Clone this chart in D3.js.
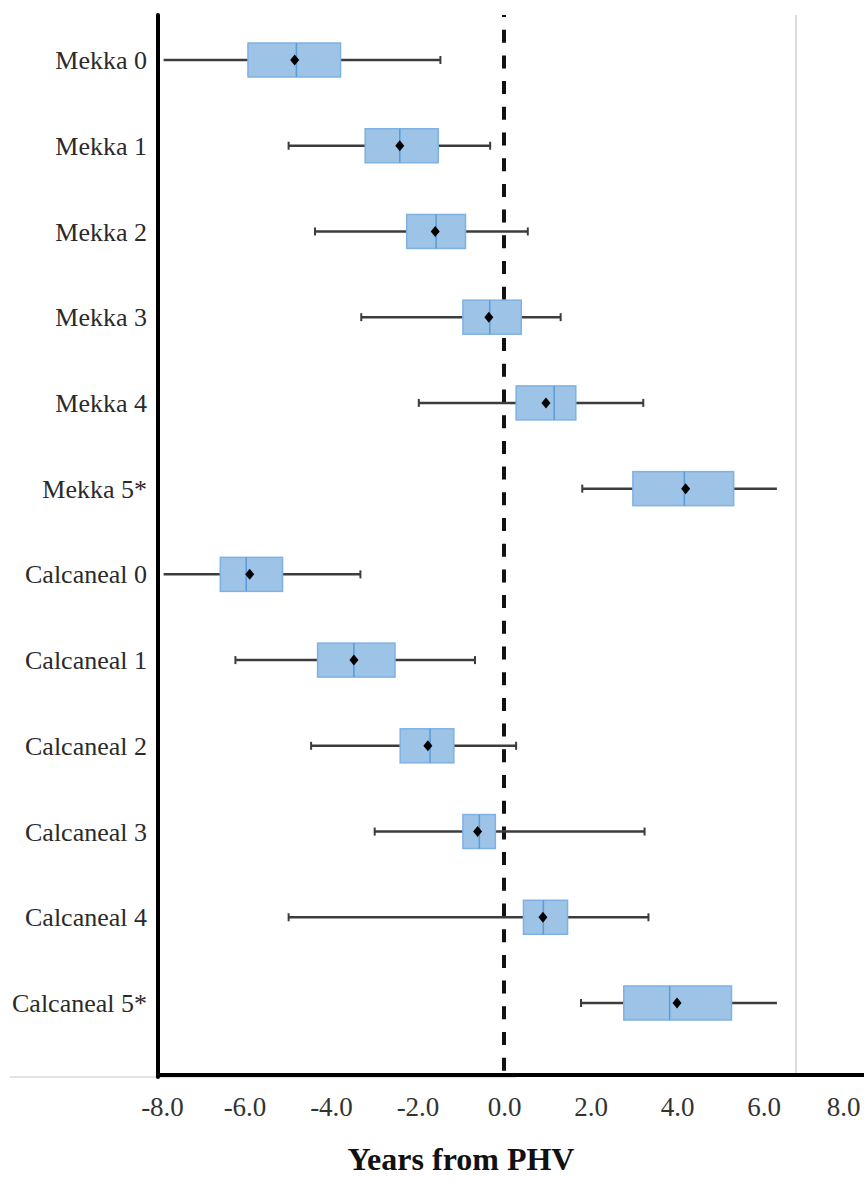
<!DOCTYPE html>
<html>
<head>
    <meta charset="UTF-8">
    <title>Years from PHV</title>
    <script src="https://d3js.org/d3.v7.min.js"></script>
    <style>
        body { margin: 0; background: #fff; }
    </style>
</head>
<body>
    <div id="chart"></div>
    <script>
        // categories, top to bottom
        var categories = ["Mekka 0", "Mekka 1", "Mekka 2", "Mekka 3", "Mekka 4", "Mekka 5*",
                          "Calcaneal 0", "Calcaneal 1", "Calcaneal 2", "Calcaneal 3", "Calcaneal 4", "Calcaneal 5*"];

        // box plot values (years from PHV)
        var mins    = [-7.87, -4.98, -4.37, -3.30, -1.97, 1.81, -7.87, -6.21, -4.46, -2.99, -4.98, 1.78];
        var q1s     = [-5.92, -3.21, -2.25, -0.95,  0.28, 2.98, -6.56, -4.31, -2.40, -0.95,  0.45, 2.77];
        var medians = [-4.80, -2.41, -1.57, -0.33,  1.16, 4.17, -5.96, -3.47, -1.71, -0.57,  0.91, 3.83];
        var means   = [-4.84, -2.41, -1.59, -0.35,  0.97, 4.20, -5.88, -3.47, -1.76, -0.61,  0.90, 4.00];
        var q3s     = [-3.78, -1.52, -0.89,  0.40,  1.66, 5.31, -5.12, -2.52, -1.16, -0.20,  1.47, 5.26];
        var maxs    = [-1.47, -0.32,  0.55,  1.31,  3.22, 6.31, -3.32, -0.67,  0.28,  3.25,  3.34, 6.31];

        var xTicks = [-8, -6, -4, -2, 0, 2, 4, 6, 8];
        var frameValue = 6.75;   // light grey right frame line

        var data = categories.map(function(c, i) {
            return {name: c, min: mins[i], q1: q1s[i], median: medians[i], mean: means[i], q3: q3s[i], max: maxs[i]};
        });

        var width = 864, height = 1182;
        var plotTop = 15, plotBottom = 1075;

        var x = d3.scaleLinear()
            .domain([-8, 8])
            .range([158, 850]);

        var y = d3.scalePoint()
            .domain(categories)
            .range([plotTop + 45, plotBottom - 72]);

        var svg = d3.select("#chart")
            .append("svg")
            .attr("width", width)
            .attr("height", height)
            .style("font-family", "'Liberation Serif', 'Times New Roman', serif");

        // faint grey lines behind the axes
        svg.append("line")
            .attr("x1", 10).attr("x2", 516)
            .attr("y1", plotBottom + 2).attr("y2", plotBottom + 2)
            .attr("stroke", "#c8c8c8").attr("stroke-width", 1);

        svg.append("line")
            .attr("x1", x(frameValue)).attr("x2", x(frameValue))
            .attr("y1", plotTop).attr("y2", plotBottom)
            .attr("stroke", "#c4c4c4").attr("stroke-width", 1.2);

        // zero reference line
        svg.append("line")
            .attr("x1", x(0)).attr("x2", x(0))
            .attr("y1", plotTop).attr("y2", plotBottom)
            .attr("stroke", "#111").attr("stroke-width", 4)
            .attr("stroke-dasharray", "13,12.7")
            .attr("stroke-dashoffset", 11);

        var rows = svg.append("g").selectAll("g")
            .data(data)
            .join("g")
            .attr("transform", function(d) { return "translate(0," + y(d.name) + ")"; });

        // whiskers
        rows.append("line")
            .attr("x1", function(d) { return x(d.min); })
            .attr("x2", function(d) { return x(d.q1); })
            .attr("stroke", "#3c3c3c").attr("stroke-width", 2.5);

        rows.append("line")
            .attr("x1", function(d) { return x(d.q3); })
            .attr("x2", function(d) { return x(d.max); })
            .attr("stroke", "#3c3c3c").attr("stroke-width", 2.5);

        // caps (the reference shows none where a whisker runs into the chart edge)
        rows.filter(function(d) { return d.min > -7.5; })
            .append("line")
            .attr("x1", function(d) { return x(d.min); })
            .attr("x2", function(d) { return x(d.min); })
            .attr("y1", -4).attr("y2", 4)
            .attr("stroke", "#3c3c3c").attr("stroke-width", 2);

        rows.filter(function(d) { return d.max < 6; })
            .append("line")
            .attr("x1", function(d) { return x(d.max); })
            .attr("x2", function(d) { return x(d.max); })
            .attr("y1", -4).attr("y2", 4)
            .attr("stroke", "#3c3c3c").attr("stroke-width", 2);

        // boxes
        rows.append("rect")
            .attr("x", function(d) { return x(d.q1); })
            .attr("width", function(d) { return x(d.q3) - x(d.q1); })
            .attr("y", -17)
            .attr("height", 34)
            .attr("fill", "#9dc3e6")
            .attr("stroke", "#7fb1e3")
            .attr("stroke-width", 1.5);

        rows.append("line")
            .attr("x1", function(d) { return x(d.median); })
            .attr("x2", function(d) { return x(d.median); })
            .attr("y1", -17).attr("y2", 17)
            .attr("stroke", "#5b9bd5").attr("stroke-width", 1.5);

        // mean markers
        rows.append("path")
            .attr("transform", function(d) { return "translate(" + x(d.mean) + ",0)"; })
            .attr("d", "M0,-5.5L4.5,0L0,5.5L-4.5,0Z")
            .attr("fill", "#000");

        // category labels
        svg.append("g").selectAll("text")
            .data(categories)
            .join("text")
            .attr("x", 147)
            .attr("y", function(d) { return y(d); })
            .attr("dy", "0.35em")
            .attr("text-anchor", "end")
            .attr("font-size", 26)
            .attr("fill", "#2a2a2a")
            .text(function(d) { return d; });

        // axes
        svg.append("line")
            .attr("x1", x(-8)).attr("x2", x(-8))
            .attr("y1", plotTop).attr("y2", plotBottom + 2)
            .attr("stroke", "#000").attr("stroke-width", 4)
            .attr("stroke-linecap", "round");

        svg.append("line")
            .attr("x1", x(-8) - 2).attr("x2", width)
            .attr("y1", plotBottom).attr("y2", plotBottom)
            .attr("stroke", "#000").attr("stroke-width", 4);

        var xAxis = svg.append("g")
            .attr("transform", "translate(0," + plotBottom + ")")
            .call(d3.axisBottom(x)
                .tickValues(xTicks)
                .tickSize(0)
                .tickPadding(22)
                .tickFormat(function(d) { return d.toFixed(1); }));

        xAxis.select(".domain").remove();
        xAxis.selectAll("text")
            .attr("font-family", "'Liberation Serif', 'Times New Roman', serif")
            .attr("font-size", 27)
            .attr("fill", "#333")
            .attr("dx", function(d) { return d === 8 ? -7 : (d === -8 ? 4 : 0); });

        // axis title
        svg.append("text")
            .attr("x", 461)
            .attr("y", 1170)
            .attr("text-anchor", "middle")
            .attr("font-size", 32)
            .attr("font-weight", "bold")
            .attr("fill", "#111")
            .text("Years from PHV");
    </script>
</body>
</html>
